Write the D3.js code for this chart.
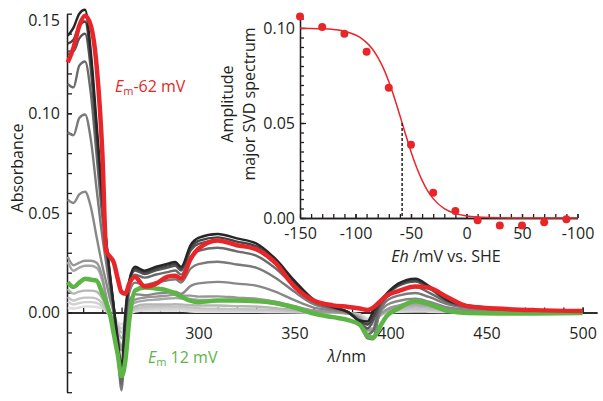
<!DOCTYPE html>
<html>
<head>
<meta charset="utf-8">
<script src="https://cdn.jsdelivr.net/npm/d3@7"></script>
<style>
  body { margin: 0; background: #fff; }
  svg text { font-family: 'Open Sans', sans-serif; fill: #231f20; }
</style>
</head>
<body>
<svg width="603" height="401"></svg>
<script>
'use strict'

const svg = d3.select('body svg')

// wavelength grid (nm) shared by every spectrum
const wavelength = [232, 235, 238, 241, 244, 247, 250, 252, 254, 256, 258, 260, 262, 264, 267, 272, 278, 284, 288, 291, 296, 300, 310, 320, 330, 340, 350, 360, 370, 378, 384, 388, 391, 394, 398, 404, 413, 420, 430, 440, 455, 475, 500]

// titration spectra, most reduced (black) to most oxidised (lightest grey)
const absBlack = [0.139, 0.143, 0.150, 0.152, 0.131, 0.095, 0.058, 0.036, 0.019, 0.0025, -0.013, -0.0276, 0.0005, 0.016, 0.023, 0.021, 0.023, 0.0245, 0.0254, 0.0229, 0.034, 0.0375, 0.0394, 0.0372, 0.0347, 0.027, 0.016, 0.0065, 0.0028, 0.0002, -0.004, -0.0045, 0.0005, 0.005, 0.0095, 0.0145, 0.017, 0.0133, 0.0062, 0.0035, 0.0022, 0.001, 0.0002]
const absGray1 = [0.135, 0.137, 0.1437, 0.1461, 0.1274, 0.091, 0.0556, 0.0364, 0.0181, 0.0023, -0.015, -0.030, -0.002, 0.0153, 0.022, 0.0201, 0.0221, 0.0235, 0.0244, 0.022, 0.0326, 0.0359, 0.0377, 0.0356, 0.0332, 0.0258, 0.0153, 0.0062, 0.0027, 0.0002, -0.0045, -0.006, -0.002, 0.004, 0.0091, 0.0139, 0.0163, 0.0127, 0.0059, 0.0034, 0.0021, 0.001, 0.0002]
const absGray2 = [0.131, 0.1312, 0.1376, 0.1399, 0.1221, 0.087, 0.053, 0.0349, 0.0173, 0.002, -0.017, -0.033, -0.004, 0.0146, 0.0211, 0.0193, 0.0212, 0.0225, 0.0234, 0.0211, 0.0312, 0.0344, 0.0361, 0.0341, 0.0318, 0.0247, 0.0147, 0.006, 0.0026, 0.0001, -0.005, -0.008, -0.004, 0.003, 0.0087, 0.0133, 0.0156, 0.0122, 0.0057, 0.0032, 0.002, 0.0009, 0.0002]
const absGray3 = [0.1148, 0.113, 0.1239, 0.126, 0.110, 0.079, 0.048, 0.0315, 0.0155, 0.0015, -0.019, -0.036, -0.006, 0.013, 0.019, 0.0175, 0.0191, 0.0203, 0.0211, 0.019, 0.0281, 0.0309, 0.0325, 0.0307, 0.0286, 0.0223, 0.0132, 0.0053, 0.0023, 0.0001, -0.005, -0.011, -0.009, 0.0015, 0.0075, 0.011, 0.0128, 0.010, 0.0051, 0.0029, 0.0018, 0.0008, 0.0002]
const absGray4 = [0.0905, 0.089, 0.0976, 0.0994, 0.0869, 0.062, 0.038, 0.0249, 0.0119, 0.0005, -0.020, -0.039, -0.008, 0.010, 0.015, 0.0139, 0.0152, 0.0162, 0.0167, 0.0151, 0.0221, 0.0243, 0.0255, 0.0241, 0.0225, 0.0175, 0.0104, 0.0042, 0.0018, 0, -0.005, -0.013, -0.0135, -0.001, 0.0058, 0.0085, 0.0098, 0.0078, 0.0041, 0.0023, 0.0014, 0.0006, 0.0001]
const absGray5 = [0.0566, 0.055, 0.0593, 0.0606, 0.053, 0.038, 0.0235, 0.0152, 0.0067, -0.0009, -0.018, -0.035, -0.009, 0.0055, 0.0092, 0.0087, 0.0095, 0.010, 0.0104, 0.0094, 0.0134, 0.0146, 0.0154, 0.0145, 0.0135, 0.0105, 0.0062, 0.0025, 0.0011, -0.0002, -0.004, -0.012, -0.012, -0.001, 0.0037, 0.0058, 0.0069, 0.0054, 0.0025, 0.0014, 0.0008, 0.0004, 0.0001]
const absGray6 = [0.028, 0.0237, 0.025, 0.026, 0.026, 0.025, 0.0178, 0.008, -0.001, -0.007, -0.013, -0.019, -0.010, 0.002, 0.0065, 0.0075, 0.008, 0.0085, 0.009, 0.0085, 0.0085, 0.008, 0.0081, 0.0075, 0.007, 0.0055, 0.0032, 0.001, 0.0003, -0.0005, -0.003, -0.009, -0.009, -0.002, 0.0015, 0.0035, 0.005, 0.004, 0.0017, 0.0008, 0.0004, 0.0002, 0]
const absGray7 = [0.0254, 0.021, 0.0225, 0.0235, 0.0235, 0.0225, 0.016, 0.0075, -0.001, -0.0065, -0.012, -0.017, -0.009, 0.0015, 0.005, 0.006, 0.0065, 0.007, 0.0072, 0.007, 0.0068, 0.0063, 0.0062, 0.0058, 0.0055, 0.0043, 0.0025, 0.0007, 0.0002, -0.0005, -0.003, -0.008, -0.008, -0.002, 0.001, 0.003, 0.004, 0.0033, 0.0014, 0.0007, 0.0003, 0.0001, 0]
const absGray8 = [0.0118, 0.0095, 0.0105, 0.011, 0.011, 0.0105, 0.007, 0.003, -0.002, -0.005, -0.009, -0.013, -0.007, 0.0005, 0.003, 0.004, 0.004, 0.004, 0.0042, 0.004, 0.0037, 0.0035, 0.0035, 0.0032, 0.003, 0.0022, 0.0012, 0.0003, 0, -0.0005, -0.002, -0.006, -0.006, -0.002, 0.0005, 0.0018, 0.003, 0.0024, 0.001, 0.0005, 0.0002, 0, 0]
const absGray9 = [0.0077, 0.006, 0.007, 0.0075, 0.0075, 0.007, 0.0045, 0.0015, -0.002, -0.004, -0.007, -0.010, -0.006, -0.0005, 0.002, 0.0028, 0.003, 0.003, 0.003, 0.003, 0.0025, 0.0022, 0.0019, 0.0018, 0.0016, 0.0012, 0.0006, 0.0001, 0, -0.0005, -0.0015, -0.005, -0.005, -0.0018, 0.0003, 0.0012, 0.0018, 0.0015, 0.0006, 0.0003, 0.0001, 0, 0]
const absGray10 = [0.0055, 0.004, 0.0048, 0.0052, 0.0052, 0.0048, 0.003, 0.0008, -0.0015, -0.0035, -0.006, -0.008, -0.005, -0.0008, 0.0012, 0.0018, 0.002, 0.002, 0.002, 0.002, 0.0015, 0.0012, 0.001, 0.001, 0.0009, 0.0007, 0.0003, 0, 0, -0.0005, -0.001, -0.004, -0.0045, -0.002, 0.0001, 0.0008, 0.001, 0.0009, 0.0004, 0.0002, 0, 0, 0]
const absGray11 = [0.0025, 0.002, 0.0025, 0.003, 0.003, 0.0028, 0.002, 0.001, -0.001, -0.003, -0.005, -0.006, -0.004, -0.001, 0.0005, 0.001, 0.001, 0.001, 0.001, 0.001, 0.0005, 0.0003, 0.0003, 0.0003, 0.0003, 0.0002, 0.0001, 0, 0, -0.0005, -0.001, -0.003, -0.0035, -0.002, 0, 0.0003, 0.0005, 0.0004, 0.0002, 0.0001, 0, 0, 0]

// component spectra
const absEm62 = [0.1256, 0.133, 0.144, 0.149, 0.144, 0.124, 0.080, 0.031, 0.028, 0.025, 0.017, 0.0103, 0.0094, 0.0145, 0.0178, 0.013, 0.0145, 0.018, 0.0185, 0.017, 0.027, 0.032, 0.0362, 0.0338, 0.0318, 0.025, 0.013, 0.006, 0.0036, 0.0028, 0.002, 0.0013, 0.0025, 0.005, 0.0085, 0.0107, 0.013, 0.0124, 0.0075, 0.0032, 0.002, 0.0012, 0.0008]
const absEm12 = [0.0153, 0.0128, 0.015, 0.017, 0.0165, 0.016, 0.0095, 0.005, -0.001, -0.011, -0.021, -0.032, -0.024, -0.004, 0.011, 0.0125, 0.012, 0.011, 0.0095, 0.008, 0.0058, 0.0052, 0.006, 0.006, 0.0057, 0.0048, 0.0025, -0.0005, -0.0023, -0.0038, -0.0062, -0.0116, -0.0128, -0.008, -0.0018, 0.002, 0.0058, 0.0042, 0.0008, -0.0003, -0.0005, -0.0005, -0.0003]

const nmTicks = [300, 350, 400, 450, 500]
const absTicks = [0, 0.05, 0.10, 0.15]

// inset: amplitude of major SVD component vs potential
const ehPoints = [-150, -130, -110, -90, -70, -50, -30, -10, 10, 30, 50, 70, 90]
const ampPoints = [0.106, 0.1005, 0.097, 0.0875, 0.0685, 0.0385, 0.0133, 0.0037, -0.0012, -0.004, -0.004, -0.0023, -0.0007]
const ehFit = [-150, -140, -130, -120, -110, -100, -95, -90, -85, -80, -75, -70, -65, -60, -55, -50, -45, -40, -35, -30, -20, -10, 0, 10, 20, 40, 60, 80, 100]
const ampFit = [0.0999, 0.0998, 0.0996, 0.0992, 0.0983, 0.0963, 0.0947, 0.0923, 0.0891, 0.0847, 0.0790, 0.0718, 0.0633, 0.0539, 0.0442, 0.0349, 0.0267, 0.0198, 0.0143, 0.0102, 0.0049, 0.0023, 0.0011, 0.0005, 0.0002, 0, 0, 0, 0]
const emMidpoint = -58
const ampMidpoint = 0.05
const ehTicks = [-150, -100, -50, 0, 50, 100]
const ehTickLabels = ['-150', '-100', '-50', '0', '50', '-100']
const ampTicks = [0, 0.05, 0.10]

const ink = '#231f20'
const red = '#e8262a'
const green = '#5db546'

// ---------- main spectra ----------
const xMain = d3.scaleLinear().domain([231.6, 507.5]).range([67, 597])
const yMain = d3.scaleLinear().domain([-0.04, 0.15]).range([392.2, 13.7])

const styleAxis = (g) => {
  g.selectAll('path.domain').attr('stroke', ink).attr('stroke-width', 1.3)
  g.selectAll('g.tick line').attr('stroke', ink).attr('stroke-width', 1.3)
  g.selectAll('g.tick text').style('font-size', '16px').attr('fill', ink)
}

const mainG = svg.append('g').classed('main', true)

const yAxisMinor = d3.axisLeft(yMain)
  .tickValues(d3.range(-4, 15).map((v) => v / 100))
  .tickSize(-5).tickSizeOuter(0).tickFormat('')
const yAxisMain = d3.axisLeft(yMain)
  .tickValues(absTicks)
  .tickSize(-5).tickSizeOuter(0).tickPadding(7)
  .tickFormat(d3.format('.2f'))
mainG.append('g').attr('transform', 'translate(67, 0)').call(yAxisMinor).call(styleAxis)
const yG = mainG.append('g').attr('transform', 'translate(67, 0)').call(yAxisMain).call(styleAxis)
yG.selectAll('g.tick text').filter((d) => d === 0.15).attr('dy', '0.72em')

const xAxisMinor = d3.axisBottom(xMain)
  .tickValues(d3.range(240, 501, 10))
  .tickSize(-5).tickSizeOuter(0).tickFormat('')
const xAxisMain = d3.axisBottom(xMain)
  .tickValues(nmTicks)
  .tickSize(-5).tickSizeOuter(0).tickPadding(15)
  .tickFormat(d3.format('d'))
mainG.append('g').attr('transform', `translate(0, ${yMain(0)})`).call(xAxisMinor).call(styleAxis)
mainG.append('g').attr('transform', `translate(0, ${yMain(0)})`).call(xAxisMain).call(styleAxis)

const spectrumLine = d3.line()
  .defined((d) => d !== undefined)
  .x((d, i) => xMain(wavelength[i]))
  .y((d) => yMain(d))
  .curve(d3.curveMonotoneX)

const family = [absGray11, absGray10, absGray9, absGray8, absGray7, absGray6, absGray5, absGray4, absGray3, absGray2, absGray1, absBlack]
const familyColors = ['#dedede', '#d1d1d1', '#c4c4c4', '#b6b6b6', '#a6a6a6', '#979797', '#888888', '#7a7a7a', '#6a6a6a', '#575757', '#444444', '#262626']

mainG.selectAll('path.spectrum')
  .data(family)
  .enter()
  .append('path').classed('spectrum', true)
  .attr('d', spectrumLine)
  .attr('fill', 'none')
  .attr('stroke', (d, i) => familyColors[i])
  .attr('stroke-width', 2.4)
  .attr('stroke-linejoin', 'round')

mainG.append('path').datum(absEm12)
  .attr('d', spectrumLine)
  .attr('fill', 'none').attr('stroke', green).attr('stroke-width', 4.5)
  .attr('stroke-linejoin', 'round')
mainG.append('path').datum(absEm62)
  .attr('d', spectrumLine)
  .attr('fill', 'none').attr('stroke', red).attr('stroke-width', 4.5)
  .attr('stroke-linejoin', 'round')

mainG.append('text')
  .attr('transform', 'translate(17, 168) rotate(-90)')
  .attr('text-anchor', 'middle').attr('dy', '0.35em')
  .style('font-size', '16px')
  .text('Absorbance')

const lambdaLabel = mainG.append('text')
  .attr('x', 347).attr('y', 362).attr('text-anchor', 'middle')
  .style('font-size', '16px')
lambdaLabel.append('tspan').style('font-style', 'italic').text('λ')
lambdaLabel.append('tspan').text('/nm')

const emRed = mainG.append('text').attr('x', 115).attr('y', 92)
  .style('font-size', '16px').style('fill', red)
emRed.append('tspan').style('font-style', 'italic').text('E')
emRed.append('tspan').attr('dy', 3).style('font-size', '11px').text('m')
emRed.append('tspan').attr('dy', -3).text('-62 mV')

const emGreen = mainG.append('text').attr('x', 148).attr('y', 363)
  .style('font-size', '16px').style('fill', green)
emGreen.append('tspan').style('font-style', 'italic').text('E')
emGreen.append('tspan').attr('dy', 3).style('font-size', '11px').text('m')
emGreen.append('tspan').attr('dy', -3).text(' 12 mV')

// ---------- inset ----------
const xIn = d3.scaleLinear().domain([-150, 100]).range([300, 577.5])
const yIn = d3.scaleLinear().domain([0, 0.107]).range([218, 14.7])

const insetG = svg.append('g').classed('inset', true)

const yInMinor = d3.axisLeft(yIn)
  .tickValues(d3.range(0, 22).map((v) => v * 0.005))
  .tickSize(-4).tickSizeOuter(0).tickFormat('')
const yInMain = d3.axisLeft(yIn)
  .tickValues(ampTicks)
  .tickSize(-6).tickSizeOuter(0).tickPadding(5)
  .tickFormat(d3.format('.2f'))
insetG.append('g').attr('transform', 'translate(300, 0)').call(yInMinor).call(styleAxis)
insetG.append('g').attr('transform', 'translate(300, 0)').call(yInMain).call(styleAxis)

const xInMinor = d3.axisBottom(xIn)
  .tickValues(d3.range(-140, 101, 10))
  .tickSize(-4).tickSizeOuter(0).tickFormat('')
const xInMain = d3.axisBottom(xIn)
  .tickValues(ehTicks)
  .tickSize(-4).tickSizeOuter(0).tickPadding(10)
  .tickFormat((d, i) => ehTickLabels[i])
insetG.append('g').attr('transform', `translate(0, ${yIn(0)})`).call(xInMinor).call(styleAxis)
insetG.append('g').attr('transform', `translate(0, ${yIn(0)})`).call(xInMain).call(styleAxis)

const fitLine = d3.line()
  .x((d, i) => xIn(ehFit[i]))
  .y((d) => yIn(d))
  .curve(d3.curveMonotoneX)
insetG.append('path').datum(ampFit)
  .attr('d', fitLine)
  .attr('fill', 'none').attr('stroke', red).attr('stroke-width', 1.5)

insetG.append('line')
  .attr('x1', xIn(emMidpoint)).attr('x2', xIn(emMidpoint))
  .attr('y1', yIn(ampMidpoint)).attr('y2', yIn(0))
  .attr('stroke', ink).attr('stroke-width', 1.5)
  .attr('stroke-dasharray', '3, 2')

insetG.selectAll('circle.point')
  .data(ampPoints)
  .enter()
  .append('circle').classed('point', true)
  .attr('cx', (d, i) => xIn(ehPoints[i]))
  .attr('cy', (d) => yIn(d))
  .attr('r', 4)
  .attr('fill', red)

insetG.append('text')
  .attr('transform', 'translate(227, 104) rotate(-90)')
  .attr('text-anchor', 'middle').attr('dy', '0.35em')
  .style('font-size', '16px')
  .text('Amplitude')
insetG.append('text')
  .attr('transform', 'translate(249, 104) rotate(-90)')
  .attr('text-anchor', 'middle').attr('dy', '0.35em')
  .style('font-size', '16px')
  .text('major SVD spectrum')

const ehLabel = insetG.append('text')
  .attr('x', 446).attr('y', 262).attr('text-anchor', 'middle')
  .style('font-size', '16px')
ehLabel.append('tspan').style('font-style', 'italic').text('Eh')
ehLabel.append('tspan').text(' /mV vs. SHE')
</script>
</body>
</html>
